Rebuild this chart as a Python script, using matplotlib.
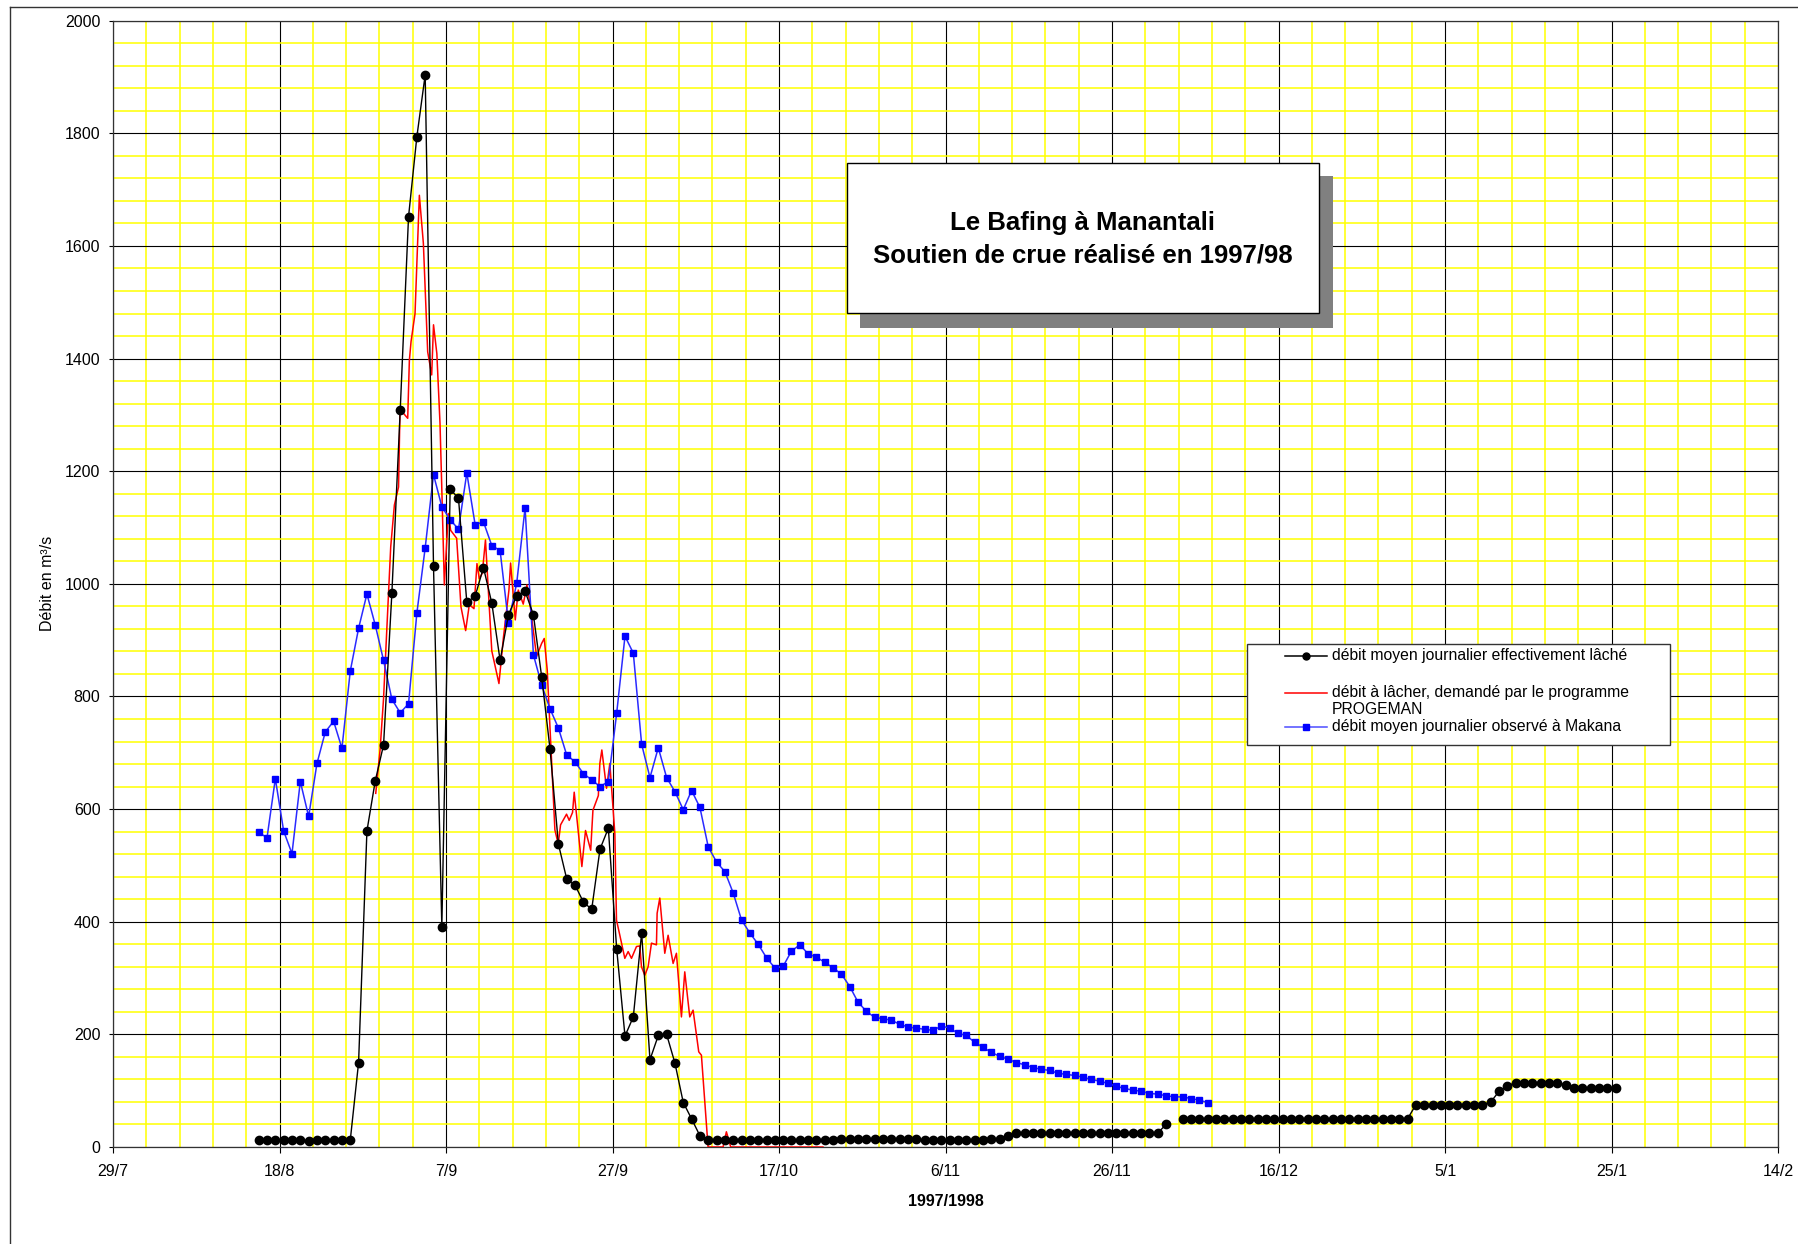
import numpy as np
import matplotlib
matplotlib.use("Agg")
import matplotlib.pyplot as plt
from matplotlib.lines import Line2D
from matplotlib.patches import Rectangle
from datetime import date, timedelta

plt.rcParams['font.family'] = ['Liberation Sans', 'DejaVu Sans']

# ---------------- data ----------------
AXIS_START = date(1997, 7, 29)
AXIS_END = date(1998, 2, 14)
black_start = date(1997, 8, 15)
blue_start = date(1997, 8, 15)

# débit moyen journalier effectivement lâché (one value per day from 15/8/1997)
black = [12, 12, 12, 12, 12, 12, 11, 12, 12, 12, 12, 12,
         150, 561, 650, 714, 984, 1308, 1652, 1794, 1904, 1031, 391,
         1168, 1152, 967, 978, 1029, 966, 864, 945, 979, 987, 945, 834,
         706, 538, 476, 465, 435, 422, 529, 566, 352, 197, 231, 380,
         155, 198, 200, 149, 79, 50, 20, 12,
         13, 13, 13, 13, 13, 13, 13, 13, 13, 13, 13, 13, 13, 13, 13,
         14, 14, 14, 14, 14, 14, 14, 14, 14, 14,
         12, 12, 12, 12, 12, 12, 12, 12,
         14, 15, 19,
         25, 25, 25, 25, 25, 25, 25, 25, 25, 25, 25, 25, 25, 25, 25, 25, 25, 25,
         40, np.nan,
         50, 50, 50, 50, 50, 50, 50, 50, 50, 50, 50, 50, 50, 50,
         50, 50, 50, 50, 50, 50, 50, 50, 50, 50, 50, 50, 50, 50,
         75, 75, 75, 75, 75, 75, 75, 75, 75,
         80, 99, 109,
         114, 114, 114, 114, 114, 114, 110,
         105, 105, 105, 105, 105, 105]

# débit moyen journalier observé à Makana (one value per day from 15/8/1997)
blue = [559, 549, 654, 561, 521, 649, 587, 681, 737, 756, 708, 845, 921, 982,
        927, 864, 795, 771, 787, 948, 1064, 1194, 1137, 1114, 1097, 1197, 1105,
        1110, 1068, 1059, 931, 1002, 1135, 874, 820, 778, 744, 696, 684, 663,
        652, 640, 649, 770, 907, 877, 715, 656, 709, 656, 631, 599, 633, 603,
        533, 506, 489, 451, 403, 380, 360, 336, 318, 321, 348, 359, 343, 337,
        328, 318, 307, 285, 257, 241, 230, 228, 225, 218, 213, 211, 209, 207,
        215, 211, 202, 198, 186, 177, 168, 161, 156, 150, 146, 141, 138, 136,
        131, 129, 127, 124, 120, 117, 113, 108, 104, 101, 99, 95, 94, 91, 89,
        89, 86, 83, 79]

# débit à lâcher demandé par PROGEMAN (days after 29/7/1997, value)
red_days = [31.56, 32.08, 32.5, 33.36, 33.8, 34.3, 34.48, 34.88, 35.4, 35.6,
            35.8, 36.28, 36.8, 37.28, 37.8, 38.28, 38.5, 38.9, 39.28, 39.48,
            39.8, 40.28, 40.56, 41.28, 41.8, 42.36, 42.8, 43.36, 43.72, 44.0,
            44.36, 44.74, 45.5, 46.36, 46.9, 47.56, 47.76, 48.32, 48.68, 49.28,
            49.72, 50.08, 50.48, 50.88, 51.48, 51.8, 52.16, 53.08, 53.48, 53.76,
            54.48, 54.8, 55.2, 55.4, 56.32, 56.76, 57.38, 57.65, 58.3, 58.48,
            58.72, 59.28, 59.68, 60.28, 60.48, 60.88, 61.48, 61.88, 62.28, 62.88,
            63.28, 63.48, 63.88, 64.28, 64.68, 65.28, 65.36, 65.68, 66.28, 66.68,
            67.28, 67.68, 68.28, 68.68, 69.28, 69.68, 70.36, 70.68, 71.48, 73.28,
            73.68, 74.2, 85.28]
red_vals = [628, 705, 797, 1066, 1140, 1172, 1314, 1303, 1294, 1397,
            1430, 1480, 1690, 1605, 1412, 1371, 1460, 1409, 1285, 1178,
            998, 1125, 1095, 1081, 959, 917, 963, 956, 1036, 1009,
            1019, 1078, 881, 823, 905, 989, 1037, 936, 989, 964,
            998, 965, 918, 871, 894, 903, 847, 563, 538, 572,
            591, 580, 594, 630, 498, 562, 527, 598, 624, 681,
            705, 637, 681, 557, 403, 376, 335, 347, 335, 356,
            357, 320, 305, 320, 362, 359, 415, 442, 344, 376,
            326, 344, 231, 311, 231, 243, 169, 163, 0, 0,
            27, 0, 0]

title_lines = ["Le Bafing à Manantali", "Soutien de crue réalisé en 1997/98"]
legend_labels = ["débit moyen journalier effectivement lâché",
                 "débit à lâcher, demandé par le programme\nPROGEMAN",
                 "débit moyen journalier observé à Makana"]

# ---------------- figure ----------------
W, H = 1798, 1244
fig = plt.figure(figsize=(W / 100, H / 100), dpi=100)
fig.patch.set_facecolor('white')


def fx(px):
    return px / W


def fy(py):
    return 1 - py / H


L, R, T, B = 113, 1778, 20.7, 1147
ax = fig.add_axes([fx(L), fy(B), (R - L) / W, (B - T) / H])

x_black = (black_start - AXIS_START).days + 0.5 + np.arange(len(black))
x_blue = (blue_start - AXIS_START).days + 0.5 + np.arange(len(blue))

ax.plot(red_days, red_vals, color='#ff0000', lw=1.1, zorder=3)
ax.plot(x_blue, blue, color='#2a2aff', lw=1.1, marker='s', ms=4.6,
        mfc='#0000ff', mec='#0000ff', zorder=4)
ax.plot(x_black, black, color='black', lw=1.0, marker='o', ms=6,
        mfc='black', mec='black', zorder=5)

total = (AXIS_END - AXIS_START).days
ax.set_xlim(0, total)
ax.set_ylim(0, 2000)

major_x = np.arange(0, total + 1, 20)
ax.set_xticks(major_x)
tick_dates = [AXIS_START + timedelta(days=int(d)) for d in major_x]
ax.set_xticklabels([f"{d.day}/{d.month}" for d in tick_dates])
ax.set_xticks(np.arange(0, total + 1, 4), minor=True)
ax.set_yticks(np.arange(0, 2001, 200))
ax.set_yticks(np.arange(0, 2001, 40), minor=True)

ax.set_axisbelow(True)
ax.grid(which='minor', color='#ffff00', lw=1.1)
ax.grid(which='major', color='black', lw=0.8)
ax.tick_params(which='minor', length=0)
ax.tick_params(axis='x', which='major', direction='out', length=4, width=0.8,
               pad=8, labelsize=11.5)
ax.tick_params(axis='y', which='major', direction='out', length=3, width=0.8,
               pad=6, labelsize=11.5)
for s in ax.spines.values():
    s.set_color('#333333')
    s.set_linewidth(0.9)

ax.set_xlabel("1997/1998", fontsize=11.5, fontweight='bold')
ax.xaxis.set_label_coords(0.5, -(1202 - B) / (B - T))
ax.xaxis.label.set_va('center')
ax.set_ylabel("Débit en m³/s", fontsize=11.5)
ax.yaxis.set_label_coords(-(L - 48) / (R - L), 0.5)
ax.yaxis.label.set_va('center')

# ---------------- title box with shadow ----------------
fig.add_artist(Rectangle((fx(860), fy(327.7)), (1332.7 - 860) / W, (327.7 - 176) / H,
                         transform=fig.transFigure, facecolor='#808080',
                         edgecolor='none', zorder=10))
fig.add_artist(Rectangle((fx(846.7), fy(313.3)), (1319 - 846.7) / W, (313.3 - 162.7) / H,
                         transform=fig.transFigure, facecolor='white',
                         edgecolor='black', lw=1.0, zorder=11))
cx = (846.7 + 1319) / 2
fig.text(fx(cx), fy(230), title_lines[0], ha='center', va='baseline',
         fontsize=18.5, fontweight='bold', zorder=12)
fig.text(fx(cx), fy(262.7), title_lines[1], ha='center', va='baseline',
         fontsize=18.5, fontweight='bold', zorder=12)

# ---------------- legend box ----------------
fig.add_artist(Rectangle((fx(1246.7), fy(745)), (1670 - 1246.7) / W, (745 - 644.3) / H,
                         transform=fig.transFigure, facecolor='white',
                         edgecolor='#333333', lw=1.0, zorder=10))
hx0, hx1, tx = 1285, 1327, 1331.7
rows = [656, 692.7, 727]
styles = [dict(color='black', marker='o', ms=5, mfc='black', mec='black'),
          dict(color='#ff0000'),
          dict(color='#4d4dff', marker='s', ms=4.5, mfc='#0000ff', mec='#0000ff')]
for yrow, st in zip(rows, styles):
    fig.add_artist(Line2D([fx(hx0), fx(hx1)], [fy(yrow), fy(yrow)],
                          transform=fig.transFigure, lw=1.1, zorder=11,
                          color=st['color']))
    if 'marker' in st:
        fig.add_artist(Line2D([fx((hx0 + hx1) / 2)], [fy(yrow)],
                              transform=fig.transFigure, lw=0, zorder=12,
                              marker=st['marker'], ms=st['ms'],
                              mfc=st['mfc'], mec=st['mec']))
fig.text(fx(tx), fy(rows[0]), legend_labels[0], ha='left', va='center',
         fontsize=11.3, zorder=12)
lab2 = legend_labels[1].split("\n")
fig.text(fx(tx), fy(rows[1]), lab2[0], ha='left', va='center', fontsize=11.3, zorder=12)
fig.text(fx(tx), fy(710), lab2[1], ha='left', va='center', fontsize=11.3, zorder=12)
fig.text(fx(tx), fy(rows[2]), legend_labels[2], ha='left', va='center',
         fontsize=11.3, zorder=12)

# ---------------- outer chart border ----------------
fig.add_artist(Line2D([fx(9.5), fx(9.5)], [fy(6.5), 0], transform=fig.transFigure,
                      color='#333333', lw=1.0, zorder=20))
fig.add_artist(Line2D([fx(9.5), 1], [fy(6.5), fy(6.5)], transform=fig.transFigure,
                      color='#333333', lw=1.0, zorder=20))

fig.savefig("out.png", dpi=100, facecolor='white')
